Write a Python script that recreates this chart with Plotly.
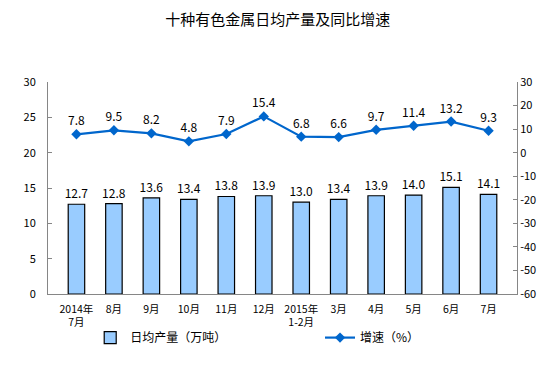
import plotly.graph_objects as go

categories = ["2014年<br>7月", "8月", "9月", "10月", "11月", "12月", "2015年<br>1-2月",
              "3月", "4月", "5月", "6月", "7月"]
output = [12.7, 12.8, 13.6, 13.4, 13.8, 13.9, 13.0, 13.4, 13.9, 14.0, 15.1, 14.1]
growth = [7.8, 9.5, 8.2, 4.8, 7.9, 15.4, 6.8, 6.6, 9.7, 11.4, 13.2, 9.3]
y2_ticks = [-60, -50, -40, -30, -20, -10, 0, 10, 20, 30]
y2_ticktext = [str(v) for v in y2_ticks]

font_family = "Noto Sans CJK SC, sans-serif"

fig = go.Figure()
fig.add_trace(go.Bar(
    x=categories, y=output, name="日均产量（万吨）",
    marker=dict(color="#99CCFF", line=dict(color="#000000", width=1.2)),
    text=[f"{v:.1f}" for v in output], textposition="outside",
    constraintext="none",
    textfont=dict(size=12, color="#000000"), cliponaxis=False,
    yaxis="y", legend="legend",
))
fig.add_trace(go.Scatter(
    x=categories, y=growth, name="增速（%）", mode="lines+markers+text",
    line=dict(color="#0066CC", width=2.2),
    marker=dict(symbol="diamond", size=8, color="#0066CC"),
    text=[f"{v:.1f}" for v in growth], textposition="top center",
    textfont=dict(size=12, color="#000000"), cliponaxis=False,
    yaxis="y2", legend="legend2",
))

legend_common = dict(orientation="h", yref="container", y=0.114, yanchor="middle",
                     xanchor="left", font=dict(size=12, color="#000000"),
                     bgcolor="rgba(0,0,0,0)")

fig.update_layout(
    width=554, height=372,
    margin=dict(l=40, r=45, t=74, b=86, autoexpand=False),
    paper_bgcolor="white", plot_bgcolor="white",
    font=dict(family=font_family, size=11, color="#000000"),
    title=dict(text="十种有色金属日均产量及同比增速", x=0.487, xanchor="center",
               y=0.968, yanchor="middle", font=dict(size=15, color="#000000")),
    bargap=0.56,
    showlegend=True,
    legend=dict(x=0.09, **legend_common),
    legend2=dict(x=0.58, **legend_common),
    xaxis=dict(showline=True, linecolor="#868686", linewidth=1, showgrid=False,
               ticks="", tickfont=dict(size=10.5), ticklabelstandoff=5, automargin=False),
    yaxis=dict(range=[0, 30], dtick=5, showgrid=False, zeroline=False,
               showline=True, linecolor="#868686", linewidth=1, automargin=False,
               ticks="inside", ticklen=4, tickcolor="#868686", tickfont=dict(size=11),
               ticklabelstandoff=9),
    yaxis2=dict(range=[-60, 30], tickvals=y2_ticks, ticktext=y2_ticktext,
                overlaying="y", side="right", automargin=False,
                showgrid=False, zeroline=False, showline=True, linecolor="#868686",
                linewidth=1, ticks="inside", ticklen=4, tickcolor="#868686",
                tickfont=dict(size=11)),
)

fig.write_html("out.html")
